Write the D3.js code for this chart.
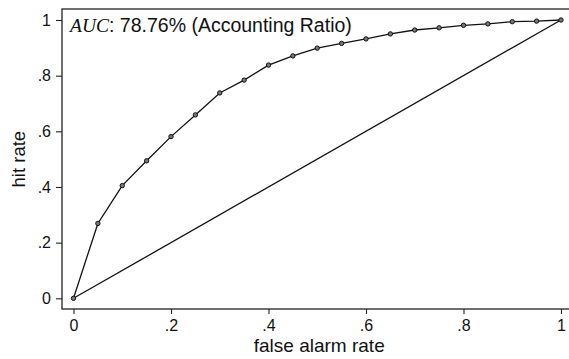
<!DOCTYPE html>
<html lang="en">
<head>
    <meta charset="utf-8" />
    <title>ROC curve</title>
    <script src="https://cdn.jsdelivr.net/npm/d3@7/dist/d3.min.js"></script>
    <style>
        body { margin: 0; background: #fff; }
        svg { display: block; font-family: "Liberation Sans", Arial, sans-serif; }
    </style>
</head>
<body>
    <div id="vis"></div>
    <script type="text/javascript">
        // data
        var falseAlarm = [0, .05, .1, .15, .2, .25, .3, .35, .4, .45, .5, .55, .6, .65, .7, .75, .8, .85, .9, .95, 1];
        var hitRate = [0, .269, .405, .494, .581, .659, .738, .784, .838, .871, .899, .916, .932, .950, .964, .972, .981, .986, .994, .996, 1];
        var diagonal = [[0, 0], [1, 1]];
        var tickValues = [0, .2, .4, .6, .8, 1];
        var tickLabels = ["0", ".2", ".4", ".6", ".8", "1"];
        var aucText = "78.76% (Accounting Ratio)";

        var width = 569, height = 359;
        var svg = d3.select("#vis").append("svg")
            .attr("width", width)
            .attr("height", height);

        var x = d3.scaleLinear().domain([0, 1]).range([73.5, 561]);
        var y = d3.scaleLinear().domain([0, 1]).range([298.3, 20]);

        // plot frame (runs off the right edge like the original)
        svg.append("rect")
            .attr("x", 62).attr("y", 9)
            .attr("width", 540).attr("height", 300)
            .attr("fill", "none")
            .attr("stroke", "#222")
            .attr("stroke-width", 1.3);

        var fmt = function (d) { return tickLabels[tickValues.indexOf(d)]; };

        var yAxis = svg.append("g")
            .attr("transform", "translate(62,0)")
            .call(d3.axisLeft(y).tickValues(tickValues).tickFormat(fmt).tickSize(6).tickPadding(5));
        var xAxis = svg.append("g")
            .attr("transform", "translate(0,309)")
            .call(d3.axisBottom(x).tickValues(tickValues).tickFormat(fmt).tickSize(5).tickPadding(6));

        [xAxis, yAxis].forEach(function (a) {
            a.select(".domain").remove();
            a.selectAll("line").attr("stroke", "#222").attr("stroke-width", 1.1);
            a.selectAll("text")
                .attr("fill", "#111")
                .style("font-family", "'Liberation Sans', Arial, sans-serif")
                .style("font-size", "16px");
        });

        // diagonal reference line
        svg.append("path")
            .datum(diagonal)
            .attr("d", d3.line().x(function (d) { return x(d[0]); }).y(function (d) { return y(d[1]); }))
            .attr("fill", "none")
            .attr("stroke", "#111")
            .attr("stroke-width", 1.3);

        var pts = falseAlarm.map(function (f, i) { return [f, hitRate[i]]; });

        svg.append("path")
            .datum(pts)
            .attr("d", d3.line().x(function (d) { return x(d[0]); }).y(function (d) { return y(d[1]); }))
            .attr("fill", "none")
            .attr("stroke", "#111")
            .attr("stroke-width", 1.3);

        svg.selectAll("circle.pt")
            .data(pts)
            .enter().append("circle")
            .attr("class", "pt")
            .attr("cx", function (d) { return x(d[0]); })
            .attr("cy", function (d) { return y(d[1]); })
            .attr("r", 2.2)
            .attr("fill", "#777")
            .attr("stroke", "#111")
            .attr("stroke-width", 1);

        // AUC note
        var note = svg.append("text")
            .attr("x", 70).attr("y", 31.5)
            .attr("fill", "#111")
            .style("font-size", "19.5px");
        note.append("tspan")
            .style("font-family", "'Liberation Serif', 'Times New Roman', serif")
            .style("font-style", "italic")
            .text("AUC");
        note.append("tspan").text(": " + aucText);

        // axis titles
        svg.append("text")
            .attr("x", x(0.5) + 2).attr("y", 352)
            .attr("text-anchor", "middle")
            .attr("fill", "#111")
            .style("font-size", "19px")
            .text("false alarm rate");

        svg.append("text")
            .attr("transform", "translate(25," + y(0.5) + ") rotate(-90)")
            .attr("text-anchor", "middle")
            .attr("fill", "#111")
            .style("font-size", "18.5px")
            .text("hit rate");
    </script>
</body>
</html>
